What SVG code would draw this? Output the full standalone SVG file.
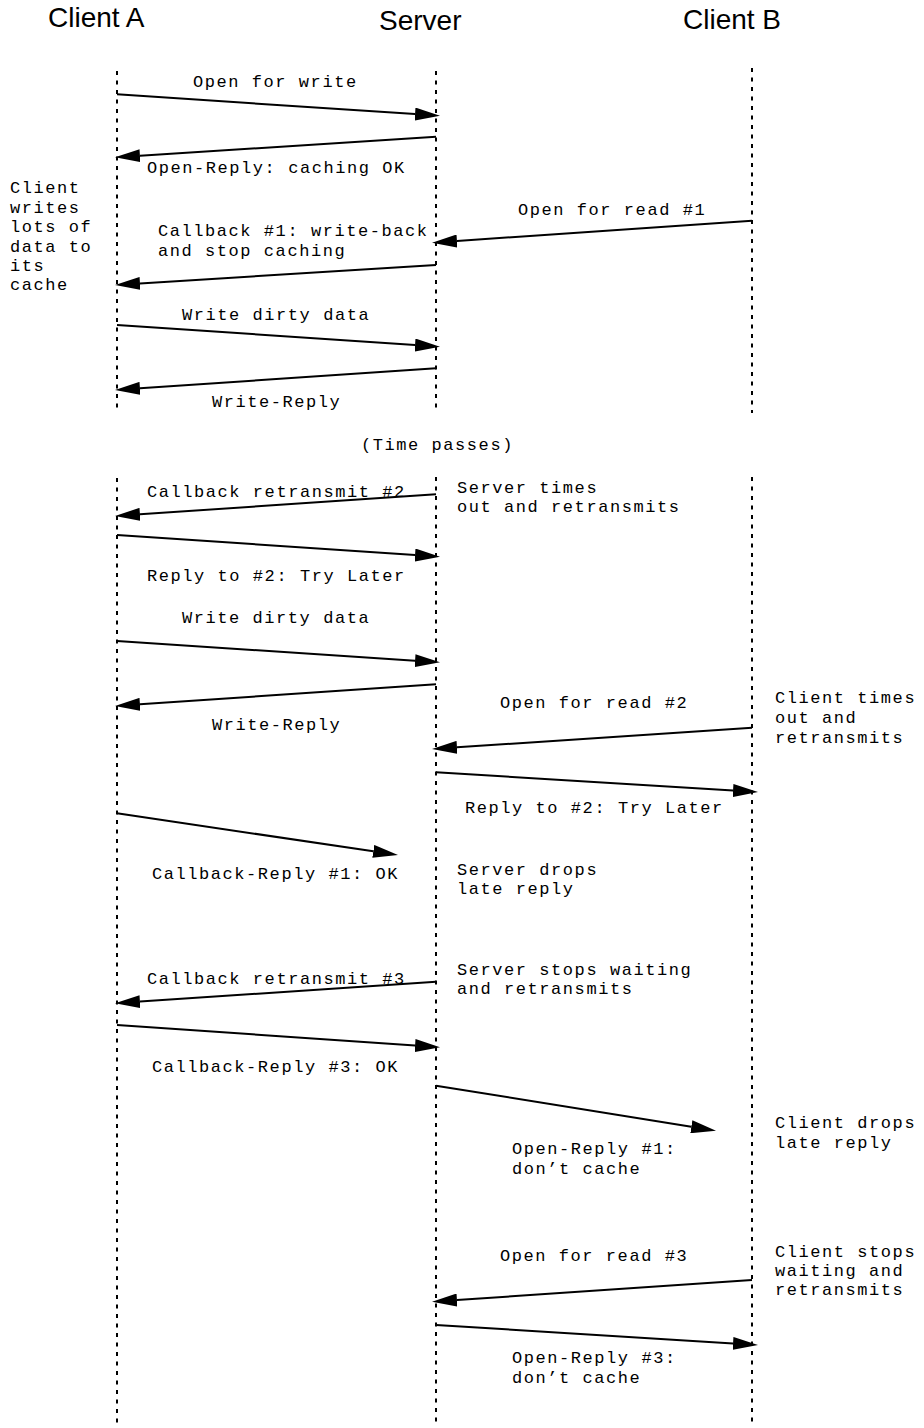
<svg xmlns="http://www.w3.org/2000/svg" width="924" height="1428" viewBox="0 0 924 1428">
<style>
.title{font-family:"Liberation Sans",Arial,sans-serif;font-size:28px;fill:#000}
.t{font-family:"Liberation Mono","Courier New",monospace;font-size:17px;letter-spacing:1.56px;fill:#000}
.life{stroke:#000;stroke-width:2;stroke-dasharray:4 5.5;fill:none}
.msg{stroke:#000;stroke-width:2;fill:none;marker-end:url(#ah)}
</style>
<defs>
<marker id="ah" markerUnits="userSpaceOnUse" markerWidth="25" markerHeight="13" refX="0" refY="6.5" orient="auto">
<path d="M0,0 L25,6.5 L0,13 Z" fill="#000"/>
</marker>
</defs>
<rect width="924" height="1428" fill="#fff"/>
<g id="clientA">
<text class="title" x="48" y="27">Client A</text>
<line class="life" x1="117" y1="71" x2="117" y2="413"/>
<line class="life" x1="117" y1="478" x2="117" y2="1425"/>
</g>
<g id="server">
<text class="title" x="379" y="30">Server</text>
<line class="life" x1="436" y1="71" x2="436" y2="413"/>
<line class="life" x1="436" y1="477" x2="436" y2="1425"/>
</g>
<g id="clientB">
<text class="title" x="683" y="29">Client B</text>
<line class="life" x1="752" y1="68" x2="752" y2="413"/>
<line class="life" x1="752" y1="477" x2="752" y2="1424"/>
</g>
<g id="connectors">
<line class="msg" x1="117" y1="94.3" x2="415.05" y2="114.05"/>
<line class="msg" x1="436" y1="136.7" x2="139.95" y2="155.7"/>
<line class="msg" x1="752" y1="220.7" x2="456.94" y2="240.99"/>
<line class="msg" x1="436" y1="265" x2="139.95" y2="283.45"/>
<line class="msg" x1="117" y1="325" x2="415.06" y2="345.02"/>
<line class="msg" x1="436" y1="368.3" x2="139.94" y2="388.31"/>
<line class="msg" x1="436" y1="494.3" x2="139.94" y2="514.31"/>
<line class="msg" x1="117" y1="535" x2="415.06" y2="555.02"/>
<line class="msg" x1="117" y1="641" x2="415.05" y2="660.66"/>
<line class="msg" x1="436" y1="684.3" x2="139.94" y2="704.31"/>
<line class="msg" x1="752" y1="727.7" x2="456.95" y2="747.34"/>
<line class="msg" x1="436" y1="772.3" x2="733.05" y2="790.47"/>
<line class="msg" x1="117" y1="813.3" x2="373.27" y2="851.33"/>
<line class="msg" x1="436" y1="981.7" x2="139.94" y2="1001.62"/>
<line class="msg" x1="117" y1="1025" x2="415.06" y2="1045.58"/>
<line class="msg" x1="436" y1="1085.7" x2="691.32" y2="1126.73"/>
<line class="msg" x1="752" y1="1280" x2="456.94" y2="1300.01"/>
<line class="msg" x1="436" y1="1325" x2="733.05" y2="1343.45"/>
</g>
<g id="labels">
<text class="t" x="193" y="87">Open for write</text>
<text class="t" x="147" y="173">Open-Reply: caching OK</text>
<text class="t" x="518" y="215">Open for read #1</text>
<text class="t" x="158" y="236">Callback #1: write-back</text>
<text class="t" x="158" y="256">and stop caching</text>
<text class="t" x="182" y="320">Write dirty data</text>
<text class="t" x="212" y="407">Write-Reply</text>
<text class="t" x="361" y="450">(Time passes)</text>
<text class="t" x="147" y="497">Callback retransmit #2</text>
<text class="t" x="147" y="581">Reply to #2: Try Later</text>
<text class="t" x="182" y="623">Write dirty data</text>
<text class="t" x="212" y="730">Write-Reply</text>
<text class="t" x="500" y="708">Open for read #2</text>
<text class="t" x="465" y="813">Reply to #2: Try Later</text>
<text class="t" x="152" y="879">Callback-Reply #1: OK</text>
<text class="t" x="147" y="984">Callback retransmit #3</text>
<text class="t" x="152" y="1072">Callback-Reply #3: OK</text>
<text class="t" x="512" y="1154">Open-Reply #1:</text>
<text class="t" x="512" y="1174">don’t cache</text>
<text class="t" x="500" y="1261">Open for read #3</text>
<text class="t" x="512" y="1363">Open-Reply #3:</text>
<text class="t" x="512" y="1383">don’t cache</text>
</g>
<g id="notes">
<text class="t" x="10" y="193">Client</text>
<text class="t" x="10" y="213">writes</text>
<text class="t" x="10" y="232">lots of</text>
<text class="t" x="10" y="252">data to</text>
<text class="t" x="10" y="271">its</text>
<text class="t" x="10" y="290">cache</text>
<text class="t" x="457" y="493">Server times</text>
<text class="t" x="457" y="512">out and retransmits</text>
<text class="t" x="457" y="875">Server drops</text>
<text class="t" x="457" y="894">late reply</text>
<text class="t" x="457" y="975">Server stops waiting</text>
<text class="t" x="457" y="994">and retransmits</text>
<text class="t" x="775" y="703">Client times</text>
<text class="t" x="775" y="723">out and</text>
<text class="t" x="775" y="743">retransmits</text>
<text class="t" x="775" y="1128">Client drops</text>
<text class="t" x="775" y="1148">late reply</text>
<text class="t" x="775" y="1257">Client stops</text>
<text class="t" x="775" y="1276">waiting and</text>
<text class="t" x="775" y="1295">retransmits</text>
</g>
</svg>
